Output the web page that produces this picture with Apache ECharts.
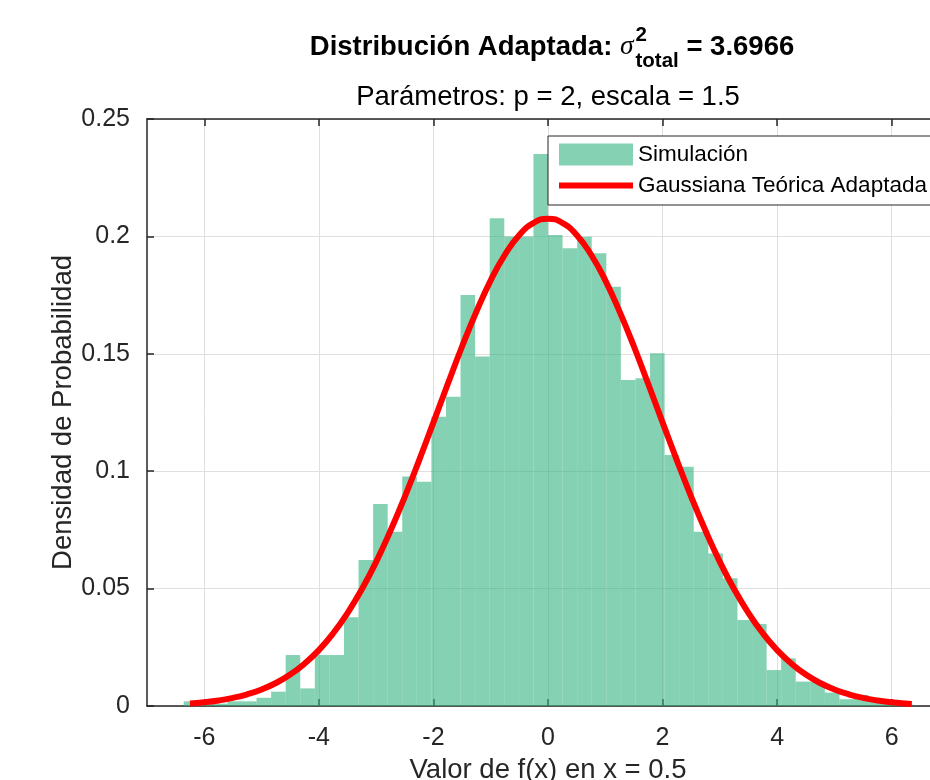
<!DOCTYPE html>
<html>
<head>
<meta charset="utf-8">
<script src="https://cdn.jsdelivr.net/npm/echarts@6/dist/echarts.min.js"></script>
<style>
  html, body { margin: 0; padding: 0; background: #fff; }
  #chart { width: 930px; height: 780px; }
</style>
</head>
<body>
<div id="chart"></div>
<script>
// histogram: regular bins, densities
const binWidth = 0.2544
const firstEdge = -6.36
const density = [
  0.002, 0.001, 0.001, 0.002, 0.002, 0.0035, 0.0061, 0.0217, 0.0075, 0.0217,
  0.0217, 0.0378, 0.0622, 0.086, 0.0742, 0.0977, 0.0955, 0.1232, 0.1317, 0.175,
  0.1488, 0.2077, 0.2, 0.2, 0.2351, 0.2006, 0.195, 0.1999, 0.1928, 0.1786,
  0.1388, 0.1396, 0.1502, 0.1069, 0.1019, 0.0742, 0.065, 0.0544, 0.0366, 0.0349,
  0.0153, 0.0203, 0.0104, 0.0104, 0.0057, 0.0029, 0.0047, 0.002, 0.001, 0.001
]

// theoretical curve, points
const curveX = [-6.25, -6, -5.75, -5.5, -5.25, -5, -4.75, -4.5, -4.25, -4, -3.75, -3.5, -3.25, -3, -2.75, -2.5,
  -2.25, -2, -1.75, -1.5, -1.25, -1, -0.75, -0.5, -0.25, 0, 0.25, 0.5, 0.75, 1, 1.25, 1.5, 1.75, 2, 2.25,
  2.5, 2.75, 3, 3.25, 3.5, 3.75, 4, 4.25, 4.5, 4.75, 5, 5.25, 5.5, 5.75, 6, 6.35]
const curveY = [0.00105, 0.00159, 0.00237, 0.00347, 0.00499, 0.00705, 0.00981, 0.0134, 0.01803, 0.0238,
  0.03097, 0.0396, 0.04972, 0.0614, 0.07461, 0.0891, 0.10463, 0.1208, 0.13713, 0.1531, 0.16797, 0.1813,
  0.1923, 0.2006, 0.20575, 0.2075, 0.20575, 0.2006, 0.1923, 0.1813, 0.16797, 0.1531, 0.13713, 0.1208,
  0.10463, 0.0891, 0.07461, 0.0614, 0.04972, 0.0396, 0.03097, 0.0238, 0.01803, 0.0134, 0.00981, 0.00705,
  0.00499, 0.00347, 0.00237, 0.00159, 0.00089]

const xTicks = [-6, -4, -2, 0, 2, 4, 6]

const font = '"Liberation Sans", Arial, Helvetica, sans-serif'
const histData = density.map((d, i) => [firstEdge + i * binWidth, firstEdge + (i + 1) * binWidth, d])
const curveData = curveX.map((x, i) => [x, curveY[i]])

// title pieces with super/subscript, laid out by measured width
const ctx = document.createElement('canvas').getContext('2d')
const measure = (text, f) => { ctx.font = f; return ctx.measureText(text).width }
const fMain = 'bold 27.5px ' + font
const fSig = 'italic 27.5px "Liberation Serif", "DejaVu Serif", serif'
const fSmall = 'bold 20.5px ' + font
const t1 = 'Distribución Adaptada: '
const t3 = ' = 3.6966'
const w1 = measure(t1, fMain)
const wS = measure('σ', fSig) + 2
const wSub = Math.max(measure('2', fSmall), measure('total', fSmall))
const w3 = measure(t3, fMain)
const tx0 = 552 - (w1 + wS + wSub + w3) / 2

const textEl = (text, x, y, f, align) => ({
  type: 'text', x: x, y: y,
  style: { text: text, font: f, fill: '#000', align: align || 'left', verticalAlign: 'middle' }
})

const chart = echarts.init(document.getElementById('chart'))
chart.setOption({
  animation: false,
  textStyle: { fontFamily: font },
  // axes run past the right edge of the picture (x max 7 is off-canvas)
  grid: { left: 147, top: 119, width: 802, height: 587, outerBoundsMode: 'none' },
  legend: {
    orient: 'vertical',
    left: 548,
    top: 136,
    padding: [7, 8, 8, 8],
    itemGap: 8,
    itemWidth: 74,
    itemHeight: 22,
    backgroundColor: '#fff',
    borderColor: '#262626',
    borderWidth: 1,
    borderRadius: 0,
    textStyle: { fontSize: 22.5, color: '#000', fontFamily: font },
    data: [
      { name: 'Simulación', icon: 'rect' },
      { name: 'Gaussiana Teórica Adaptada', itemStyle: { opacity: 0 }, lineStyle: { width: 6, color: '#ff0000' } }
    ]
  },
  graphic: [
    textEl(t1, tx0, 47, fMain),
    textEl('σ', tx0 + w1, 47, fSig),
    textEl('2', tx0 + w1 + wS, 35, fSmall),
    textEl('total', tx0 + w1 + wS, 61, fSmall),
    textEl(t3, tx0 + w1 + wS + wSub, 47, fMain),
    textEl('Parámetros: p = 2, escala = 1.5', 548, 97, '27.5px ' + font, 'center')
  ],
  xAxis: [
    {
      type: 'value',
      min: -7,
      max: 7,
      name: 'Valor de f(x) en x = 0.5',
      nameLocation: 'middle',
      nameGap: 50,
      nameTextStyle: { fontSize: 27.5, color: '#262626' },
      axisLine: { show: true, onZero: false, lineStyle: { color: '#262626', width: 1.5 } },
      axisTick: { show: true, inside: true, length: 7, customValues: xTicks, lineStyle: { color: '#262626', width: 1.5 } },
      axisLabel: { customValues: xTicks, fontSize: 25, color: '#262626', margin: 20 },
      splitLine: { show: true, lineStyle: { color: '#dfdfdf', width: 1 } }
    },
    {
      type: 'value',
      position: 'top',
      min: -7,
      max: 7,
      axisLine: { show: true, onZero: false, lineStyle: { color: '#262626', width: 1.5 } },
      axisTick: { show: true, inside: true, length: 7, customValues: xTicks, lineStyle: { color: '#262626', width: 1.5 } },
      axisLabel: { show: false },
      splitLine: { show: false }
    }
  ],
  yAxis: {
    type: 'value',
    min: 0,
    max: 0.25,
    interval: 0.05,
    name: 'Densidad de Probabilidad',
    nameLocation: 'middle',
    nameGap: 70,
    nameMoveOverlap: false,
    nameTextStyle: { fontSize: 27.5, color: '#262626' },
    axisLine: { show: true, onZero: false, lineStyle: { color: '#262626', width: 1.5 } },
    axisTick: { show: true, inside: true, length: 7, lineStyle: { color: '#262626', width: 1.5 } },
    axisLabel: { fontSize: 25, color: '#262626', margin: 17 },
    splitLine: { show: true, lineStyle: { color: '#dfdfdf', width: 1 } }
  },
  series: [
    {
      name: 'Simulación',
      type: 'custom',
      itemStyle: { color: 'rgba(51,179,128,0.6)' },
      encode: { x: [0, 1], y: 2 },
      data: histData,
      renderItem: (params, api) => {
        const p0 = api.coord([api.value(0), api.value(2)])
        const p1 = api.coord([api.value(1), 0])
        return {
          type: 'rect',
          shape: { x: p0[0], y: p0[1], width: p1[0] - p0[0], height: p1[1] - p0[1] },
          style: { fill: api.visual('color') }
        }
      }
    },
    {
      name: 'Gaussiana Teórica Adaptada',
      type: 'line',
      data: curveData,
      smooth: true,
      symbol: 'none',
      z: 5,
      lineStyle: { color: '#ff0000', width: 6 },
      itemStyle: { color: '#ff0000' }
    }
  ]
})
</script>
</body>
</html>
